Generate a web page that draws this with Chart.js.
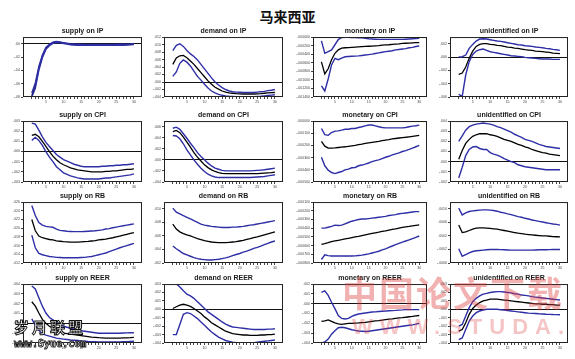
<!DOCTYPE html>
<html lang="zh">
<head>
  <meta charset="UTF-8">
  <title>马来西亚</title>
  <script src="https://cdn.jsdelivr.net/npm/chart.js"></script>
  <style>
    body { margin: 0; width: 575px; height: 359px; background: #fff; position: relative; overflow: hidden; }
    canvas { position: absolute; }
    #mainTitle { position: absolute; left: 0; top: 6px; width: 575px; text-align: center;
      font: bold 14px "Noto Sans CJK SC", sans-serif; color: #111; }
    .wm { position: absolute; pointer-events: none; white-space: nowrap; }
    #wmSyue { left: 14px; top: 316px; font: bold 15px "Noto Sans CJK SC"; letter-spacing: 3px; color: #fff;
      -webkit-text-stroke: 1px #111; }
    #wmSyueUrl { left: 14px; top: 338px; font: bold 10px "DejaVu Sans Mono"; color: #fff; -webkit-text-stroke: 0.8px #111; }
    #wmStuda { left: 342px; top: 266px; font: bold 35px "Noto Sans CJK SC"; color: rgba(222, 60, 60, 0.4); letter-spacing: 2px; }
    #wmStudaUrl { left: 352px; top: 314px; font: bold 22px "Liberation Sans"; color: rgba(222, 60, 60, 0.3); letter-spacing: 7px; }
  </style>
</head>
<body>
  <div id="mainTitle">马来西亚</div>
  <script>
    // periods 1..30 and x labels
    const periods = [1,2,3,4,5,6,7,8,9,10,11,12,13,14,15,16,17,18,19,20,21,22,23,24,25,26,27,28,29,30];
    const xTickLabels = [5,10,15,20,25,30];

    const panelTitles = [
      'supply on IP','demand on IP','monetary on IP','unidentified on IP',
      'supply on CPI','demand on CPI','monetary on CPI','unidentified on CPI',
      'supply on RB','demand on RB','monetary on RB','unidentified on RB',
      'supply on REER','demand on REER','monetary on REER','unidentified on REER'
    ];

    // values below are stored in these units
    const units = [0.01,0.001,0.0001,0.001, 0.001,0.001,0.00001,0.001, 0.001,0.001,0.0001,0.0001, 0.001,0.001,0.001,0.001];
    const yMin  = [-8,-4,-14,-6, -3,-4,-50,-2, 12,2,-8,-6, -2,-4,-4,-4];
    const yMax  = [1,12,0,3, 3,7,0,4, 26,11,-1,12, 4,3,2,3];
    const yStep = [1,2,2,1, 1,1,5,1, 2,1,1,2, 1,1,1,1];
    const yDecimals = [2,3,6,3, 3,3,6,3, 3,3,6,4, 3,3,3,3];

    const response = [
      [-7.8,-6.3,-3.7,-1.9,-0.7,-0.2,0.15,0.25,0.2,0.1,0,-0.08,-0.12,-0.15,-0.16,-0.17,-0.17,-0.17,-0.17,-0.17,-0.17,-0.17,-0.17,-0.17,-0.16,-0.16,-0.15,-0.13,-0.1,-0.06],
      [4.7,6.4,7.0,7.1,6.5,5.6,4.7,3.6,2.5,1.4,0.3,-0.6,-1.4,-1.9,-2.4,-2.7,-2.9,-3.0,-3.1,-3.15,-3.2,-3.2,-3.2,-3.2,-3.15,-3.1,-3.0,-2.9,-2.85,-2.8],
      [-5.8,-8.6,-7.4,-5.3,-3.8,-3.0,-2.6,-2.5,-2.45,-2.4,-2.35,-2.3,-2.25,-2.2,-2.15,-2.1,-2.05,-2.0,-1.9,-1.85,-1.8,-1.7,-1.65,-1.6,-1.5,-1.45,-1.4,-1.35,-1.3,-1.3],
      [-2.6,-2.4,-1.5,-0.2,0.9,1.6,1.9,2.0,2.0,1.9,1.85,1.75,1.7,1.6,1.5,1.45,1.35,1.3,1.2,1.1,1.05,1.0,0.9,0.85,0.8,0.75,0.7,0.6,0.55,0.5],
      [1.6,1.7,1.45,1.0,0.5,0,-0.45,-0.8,-1.1,-1.3,-1.45,-1.6,-1.7,-1.8,-1.85,-1.9,-1.95,-2.0,-2.0,-2.0,-2.0,-1.95,-1.95,-1.9,-1.9,-1.85,-1.8,-1.75,-1.75,-1.7],
      [5.1,5.3,4.9,4.1,3.2,2.3,1.3,0.5,-0.2,-0.9,-1.4,-1.8,-2.1,-2.3,-2.45,-2.5,-2.5,-2.5,-2.5,-2.5,-2.5,-2.5,-2.5,-2.5,-2.5,-2.45,-2.4,-2.35,-2.3,-2.2],
      [-16.7,-20.6,-22.2,-22.2,-22.0,-21.7,-21.4,-21.1,-20.7,-20.3,-19.9,-19.4,-18.9,-18.3,-17.9,-17.5,-17.1,-16.7,-16.1,-15.6,-15.2,-14.7,-14.3,-13.9,-13.6,-13.3,-12.9,-12.5,-12.1,-11.7],
      [0.25,1.1,1.8,2.2,2.5,2.65,2.75,2.75,2.75,2.65,2.6,2.5,2.35,2.2,2.1,2.0,1.85,1.7,1.6,1.45,1.35,1.2,1.1,1.0,0.9,0.85,0.75,0.7,0.65,0.6],
      [22.0,19.4,18.2,17.8,17.6,17.4,17.3,17.1,17.0,16.9,16.85,16.8,16.8,16.8,16.85,16.9,16.95,17.05,17.15,17.3,17.4,17.5,17.65,17.8,18.0,18.2,18.4,18.6,18.8,19.0],
      [7.75,7.0,6.6,6.35,6.15,6.0,5.8,5.6,5.45,5.3,5.2,5.1,5.05,5.0,5.0,5.0,5.05,5.1,5.15,5.25,5.35,5.5,5.6,5.75,5.85,6.0,6.15,6.3,6.45,6.6],
      [-5.85,-5.78,-5.67,-5.55,-5.47,-5.39,-5.32,-5.24,-5.16,-5.08,-5.0,-4.93,-4.85,-4.77,-4.69,-4.61,-4.53,-4.46,-4.38,-4.31,-4.23,-4.15,-4.08,-4.0,-3.92,-3.86,-3.8,-3.73,-3.67,-3.61],
      [5.2,3.0,3.2,3.6,4.0,4.3,4.4,4.4,4.3,4.2,4.1,4.0,3.8,3.6,3.4,3.2,3.0,2.8,2.65,2.5,2.4,2.3,2.2,2.1,2.0,2.0,1.9,1.8,1.75,1.7],
      [2.2,1.75,1.05,0.4,0,-0.3,-0.5,-0.7,-0.85,-1.0,-1.05,-1.1,-1.15,-1.2,-1.25,-1.3,-1.35,-1.4,-1.42,-1.45,-1.47,-1.5,-1.5,-1.5,-1.5,-1.5,-1.48,-1.47,-1.45,-1.42],
      [0.1,0.3,0.5,0.6,0.5,0.35,0.1,-0.2,-0.5,-0.9,-1.2,-1.6,-1.85,-2.1,-2.35,-2.6,-2.75,-2.9,-2.95,-3.0,-3.05,-3.05,-3.1,-3.1,-3.1,-3.05,-3.05,-3.0,-3.0,-2.95],
      [-1.8,-1.75,-1.65,-1.8,-1.95,-2.05,-2.1,-2.05,-2.0,-2.0,-1.97,-1.95,-1.92,-1.9,-1.85,-1.8,-1.75,-1.72,-1.68,-1.63,-1.58,-1.55,-1.5,-1.45,-1.42,-1.38,-1.33,-1.3,-1.25,-1.2],
      [-2.6,-2.4,-1.6,-0.6,0.1,0.5,0.8,1.0,1.1,1.2,1.2,1.2,1.15,1.1,1.05,1.0,0.95,0.9,0.85,0.8,0.75,0.7,0.65,0.65,0.6,0.6,0.55,0.55,0.5,0.5]
    ];

    const upperBand = [
      [-7.4,-5.9,-3.4,-1.7,-0.55,-0.1,0.25,0.33,0.28,0.17,0.07,-0.01,-0.05,-0.08,-0.09,-0.1,-0.1,-0.1,-0.1,-0.1,-0.1,-0.1,-0.1,-0.1,-0.09,-0.09,-0.08,-0.06,-0.03,0.01],
      [8.4,9.8,10.2,9.5,8.4,7.5,6.8,5.9,4.7,3.5,2.3,1.1,0,-0.8,-1.5,-2.0,-2.4,-2.6,-2.7,-2.75,-2.8,-2.8,-2.8,-2.8,-2.7,-2.6,-2.5,-2.3,-2.2,-2.0],
      [-0.9,-3.8,-3.4,-3.0,-1.8,-0.6,-0.1,-0.05,-0.05,-0.1,-0.1,-0.15,-0.2,-0.3,-0.4,-0.45,-0.5,-0.55,-0.55,-0.55,-0.55,-0.55,-0.55,-0.55,-0.55,-0.5,-0.45,-0.4,-0.35,-0.3],
      [0,0.05,0.3,1.3,1.9,2.4,2.7,2.75,2.7,2.6,2.5,2.4,2.35,2.25,2.15,2.05,1.95,1.85,1.8,1.7,1.65,1.6,1.5,1.45,1.4,1.3,1.25,1.15,1.1,1.0],
      [2.8,2.7,2.1,1.45,0.9,0.5,0.1,-0.3,-0.55,-0.8,-0.95,-1.1,-1.25,-1.35,-1.45,-1.5,-1.5,-1.5,-1.5,-1.5,-1.45,-1.45,-1.4,-1.4,-1.35,-1.35,-1.3,-1.3,-1.25,-1.2],
      [5.7,5.9,5.5,4.7,3.9,3.0,2.2,1.3,0.6,0,-0.6,-1.1,-1.5,-1.7,-1.9,-2.0,-2.0,-2.0,-2.0,-2.0,-2.0,-2.0,-2.0,-1.95,-1.9,-1.85,-1.8,-1.7,-1.6,-1.5],
      [-6.1,-11.1,-11.7,-9.4,-8.3,-8.1,-7.5,-6.7,-6.7,-6.1,-6.1,-5.3,-4.7,-3.9,-3.3,-3.3,-3.9,-4.7,-5.3,-5.6,-5.6,-5.6,-5.6,-5.6,-5.6,-5.3,-4.7,-4.2,-3.9,-3.3],
      [2.0,2.55,3.1,3.45,3.6,3.7,3.75,3.8,3.75,3.7,3.6,3.45,3.35,3.2,3.05,2.9,2.7,2.55,2.4,2.2,2.1,2.0,1.85,1.7,1.6,1.5,1.45,1.4,1.35,1.3],
      [25.2,22.9,21.3,20.7,20.4,20.3,20.2,19.8,19.5,19.4,19.3,19.25,19.2,19.2,19.2,19.25,19.3,19.35,19.4,19.5,19.6,19.8,19.9,20.1,20.25,20.4,20.55,20.7,20.85,21.0],
      [10.1,9.5,9.25,9.0,8.75,8.5,8.25,8.0,7.75,7.6,7.5,7.4,7.35,7.3,7.25,7.25,7.25,7.3,7.3,7.35,7.4,7.5,7.6,7.65,7.75,7.85,7.95,8.05,8.15,8.25],
      [-4.0,-4.0,-3.9,-3.8,-3.65,-3.7,-3.65,-3.5,-3.35,-3.2,-3.1,-3.0,-2.95,-2.95,-2.9,-2.85,-2.8,-2.75,-2.7,-2.65,-2.55,-2.5,-2.45,-2.35,-2.3,-2.25,-2.2,-2.15,-2.1,-2.1],
      [10.2,8.2,8.8,9.2,9.4,9.5,9.6,9.7,9.7,9.6,9.5,9.3,9.0,8.8,8.5,8.3,8.0,7.7,7.5,7.2,7.0,6.7,6.5,6.3,6.1,5.9,5.7,5.5,5.4,5.2],
      [3.8,3.5,2.6,1.75,1.05,0.6,0.35,0.1,-0.1,-0.3,-0.4,-0.5,-0.6,-0.7,-0.75,-0.8,-0.85,-0.9,-0.95,-1.0,-1.0,-1.0,-1.0,-1.0,-1.0,-1.0,-0.98,-0.97,-0.96,-0.95],
      [3.05,3.05,2.65,2.2,1.8,1.6,1.3,0.9,0.5,0.1,-0.3,-0.6,-0.9,-1.2,-1.5,-1.75,-1.95,-2.1,-2.15,-2.2,-2.25,-2.3,-2.35,-2.4,-2.4,-2.4,-2.4,-2.35,-2.35,-2.3],
      [1.15,1.3,0.85,0.15,-0.5,-1.2,-1.5,-1.55,-1.5,-1.3,-1.15,-1.05,-1.0,-0.95,-0.9,-0.85,-0.83,-0.8,-0.77,-0.75,-0.72,-0.7,-0.68,-0.65,-0.63,-0.6,-0.6,-0.6,-0.6,-0.6],
      [-2.0,-1.8,-0.8,0.2,0.9,1.3,1.6,1.8,1.9,2.0,2.05,2.1,2.1,2.05,2.0,1.95,1.85,1.8,1.7,1.65,1.6,1.5,1.45,1.4,1.35,1.3,1.25,1.2,1.15,1.1]
    ];

    const lowerBand = [
      [-8.0,-6.7,-4.0,-2.1,-0.85,-0.3,0.05,0.17,0.12,0.03,-0.07,-0.15,-0.19,-0.22,-0.23,-0.24,-0.24,-0.24,-0.24,-0.24,-0.24,-0.24,-0.24,-0.24,-0.23,-0.23,-0.22,-0.2,-0.17,-0.13],
      [1.5,2.7,5.0,5.9,5.3,4.3,2.9,1.5,0.5,-0.6,-1.6,-2.4,-2.9,-3.3,-3.55,-3.7,-3.8,-3.85,-3.9,-3.9,-3.9,-3.9,-3.9,-3.9,-3.85,-3.8,-3.7,-3.6,-3.5,-3.4],
      [-11.4,-12.6,-9.8,-6.5,-5.0,-5.3,-4.9,-4.6,-4.55,-4.5,-4.45,-4.4,-4.3,-4.2,-4.1,-4.0,-3.85,-3.7,-3.55,-3.4,-3.3,-3.2,-3.0,-2.9,-2.8,-2.7,-2.5,-2.4,-2.2,-2.1],
      [-5.6,-5.9,-2.7,-0.7,0.4,0.9,1.1,1.2,1.0,0.8,0.7,0.6,0.5,0.4,0.3,0.2,0.15,0.1,0.05,-0.05,-0.1,-0.15,-0.2,-0.25,-0.3,-0.3,-0.3,-0.35,-0.35,-0.35],
      [1.1,1.4,1.1,0.6,0,-0.55,-1.0,-1.5,-1.8,-2.1,-2.25,-2.4,-2.5,-2.6,-2.65,-2.7,-2.7,-2.7,-2.7,-2.7,-2.65,-2.6,-2.6,-2.55,-2.5,-2.45,-2.4,-2.35,-2.3,-2.2],
      [4.4,4.3,3.8,2.9,1.8,0.9,0,-0.8,-1.5,-2.1,-2.6,-2.9,-3.1,-3.2,-3.2,-3.2,-3.2,-3.2,-3.2,-3.2,-3.2,-3.2,-3.2,-3.15,-3.1,-3.05,-3.0,-2.9,-2.8,-2.7],
      [-29.7,-36.7,-40.3,-42.2,-43.1,-42.2,-41.4,-40.0,-39.4,-38.3,-38.1,-36.7,-36.1,-35.3,-34.4,-33.3,-32.5,-31.9,-30.8,-29.7,-28.9,-27.8,-26.9,-26.1,-25.0,-24.2,-23.3,-22.2,-21.1,-20.0],
      [-1.6,-0.55,0.6,1.2,1.45,1.5,1.3,1.2,1.2,0.9,0.75,0.65,0.5,0.3,0.15,0,-0.1,-0.3,-0.4,-0.5,-0.55,-0.6,-0.65,-0.7,-0.75,-0.8,-0.8,-0.8,-0.8,-0.8],
      [18.4,15.5,14.2,13.9,13.7,13.5,13.4,13.3,13.25,13.2,13.2,13.2,13.2,13.2,13.25,13.3,13.4,13.5,13.7,13.9,14.1,14.3,14.6,14.9,15.2,15.5,15.75,16.0,16.25,16.5],
      [4.5,4.1,3.75,3.4,3.2,3.0,2.8,2.65,2.55,2.5,2.45,2.45,2.5,2.55,2.65,2.75,2.9,3.1,3.25,3.4,3.6,3.75,3.95,4.15,4.3,4.5,4.7,4.9,5.1,5.25],
      [-7.6,-7.05,-7.15,-7.2,-7.2,-7.2,-7.2,-7.2,-7.2,-7.2,-7.18,-7.14,-7.1,-7.03,-6.95,-6.85,-6.75,-6.65,-6.5,-6.37,-6.2,-6.05,-5.9,-5.75,-5.6,-5.47,-5.35,-5.2,-5.05,-4.9],
      [-1.8,-4.0,-3.5,-3.0,-2.6,-2.4,-2.3,-2.2,-2.1,-2.0,-2.0,-2.0,-2.05,-2.1,-2.15,-2.2,-2.2,-2.2,-2.2,-2.2,-2.2,-2.2,-2.15,-2.1,-2.1,-2.1,-2.05,-2.0,-2.0,-2.0],
      [0.45,-0.2,-0.7,-1.05,-1.2,-1.3,-1.4,-1.5,-1.55,-1.6,-1.65,-1.7,-1.72,-1.75,-1.8,-1.82,-1.85,-1.87,-1.88,-1.9,-1.9,-1.9,-1.9,-1.9,-1.9,-1.9,-1.88,-1.86,-1.84,-1.82],
      [-3.0,-3.0,-1.8,-0.6,-0.4,-0.5,-0.8,-1.1,-1.5,-1.9,-2.3,-2.7,-3.0,-3.3,-3.5,-3.7,-3.8,-3.9,-3.95,-4.0,-4.0,-4.0,-4.0,-3.95,-3.9,-3.85,-3.8,-3.75,-3.7,-3.65],
      [-4.0,-3.9,-3.6,-3.1,-2.75,-2.45,-2.4,-2.45,-2.55,-2.65,-2.72,-2.78,-2.8,-2.83,-2.8,-2.75,-2.7,-2.65,-2.6,-2.55,-2.5,-2.45,-2.4,-2.35,-2.3,-2.25,-2.2,-2.15,-2.08,-2.0],
      [-3.6,-3.4,-2.4,-1.4,-0.8,-0.4,-0.2,-0.1,0,0,0,0,-0.05,-0.1,-0.15,-0.2,-0.25,-0.3,-0.35,-0.4,-0.45,-0.48,-0.5,-0.53,-0.55,-0.58,-0.6,-0.62,-0.63,-0.65]
    ];

    // grid placement (plot box edges, px)
    const colBox = [[23, 141], [164, 282], [313, 426], [450, 567]];
    const rowBox = [[37, 96], [121, 181], [202, 262], [284, 342]];
    const Y_AXIS_W = 18, X_AXIS_H = 9, TITLE_H = 11, PAD_R = 2;
    const BAND_COLOR = '#2e2ea6';

    const framePlugin = {
      id: 'frame',
      afterDraw(chart) {
        const a = chart.chartArea, c = chart.ctx;
        c.save();
        c.strokeStyle = '#222';
        c.lineWidth = 1;
        c.strokeRect(a.left + 0.5, a.top + 0.5, a.right - a.left - 1, a.bottom - a.top - 1);
        c.restore();
      }
    };

    function fmt(v, d) {
      if (Math.abs(v) < 1e-12) v = 0;
      return v.toFixed(d).replace(/^(-?)0\./, '$1.');
    }

    function toPoints(arr, u) {
      return periods.map((p, i) => ({ x: p, y: arr[i] * u }));
    }

    panelTitles.forEach((title, k) => {
      const col = k % 4, row = Math.floor(k / 4);
      const [bl, br] = colBox[col], [bt, bb] = rowBox[row];
      const cv = document.createElement('canvas');
      const w = Y_AXIS_W + (br - bl + 1) + PAD_R;
      const h = TITLE_H + (bb - bt + 1) + X_AXIS_H;
      cv.width = w; cv.height = h;
      cv.style.left = (bl - Y_AXIS_W) + 'px';
      cv.style.top = (bt - TITLE_H) + 'px';
      cv.style.width = w + 'px'; cv.style.height = h + 'px';
      document.body.appendChild(cv);
      const u = units[k];

      // bands drawn over the response line (first dataset ends up on top)
      new Chart(cv, {
        type: 'line',
        data: {
          datasets: [
            { data: toPoints(upperBand[k], u), borderColor: BAND_COLOR, borderWidth: 1.4 },
            { data: toPoints(lowerBand[k], u), borderColor: BAND_COLOR, borderWidth: 1.4 },
            { data: toPoints(response[k], u), borderColor: '#000', borderWidth: 1.3 }
          ]
        },
        options: {
          responsive: false,
          animation: false,
          devicePixelRatio: 1,
          layout: { padding: { left: 0, right: PAD_R, top: 0, bottom: 0 } },
          elements: { point: { radius: 0 }, line: { tension: 0 } },
          plugins: {
            legend: { display: false },
            tooltip: { enabled: false },
            title: {
              display: true, text: title, fullSize: false, color: '#1a1a1a',
              font: { family: 'Liberation Sans', size: 7, weight: 'bold', lineHeight: 1.15 },
              padding: { top: 1, bottom: 2 }
            }
          },
          scales: {
            x: {
              type: 'linear', min: -1.5, max: 32.3,
              afterBuildTicks: axis => { axis.ticks = periods.map(v => ({ value: v })); },
              afterFit: s => { s.height = X_AXIS_H; },
              ticks: {
                autoSkip: false, maxRotation: 0, padding: 1, color: '#444',
                font: { family: 'Liberation Sans', size: 3.5 },
                callback: v => xTickLabels.includes(v) ? String(v) : ''
              },
              grid: { display: true, drawOnChartArea: false, tickLength: 2, tickColor: '#444' },
              border: { display: false }
            },
            y: {
              min: yMin[k] * u, max: yMax[k] * u,
              afterFit: s => { s.width = Y_AXIS_W; },
              ticks: {
                stepSize: yStep[k] * u, padding: 1, color: '#444',
                font: { family: 'Liberation Sans', size: 3.5 },
                callback: v => fmt(v, yDecimals[k])
              },
              grid: {
                drawOnChartArea: true, tickLength: 2, tickColor: '#444',
                color: c => (c.tick && Math.abs(c.tick.value) < u * 1e-6) ? '#111' : 'rgba(0,0,0,0)'
              },
              border: { display: false }
            }
          }
        },
        plugins: [framePlugin]
      });
    });
  </script>
  <div class="wm" id="wmStuda">中国论文下载</div>
  <div class="wm" id="wmStudaUrl">WWW.STUDA.</div>
  <div class="wm" id="wmSyue">岁月联盟</div>
  <div class="wm" id="wmSyueUrl">www.Syue.com</div>
</body>
</html>
